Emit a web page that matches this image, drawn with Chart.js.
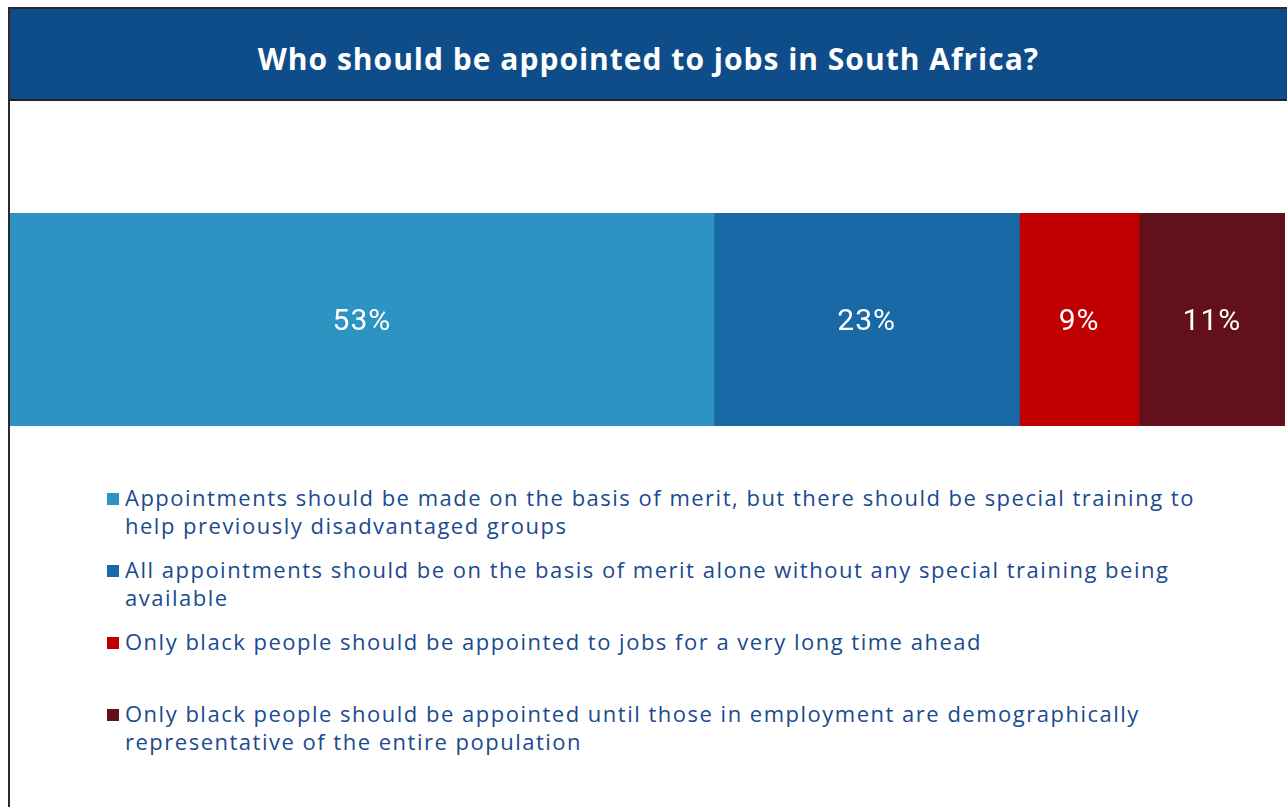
<!DOCTYPE html>
<html>
<head>
<meta charset="utf-8">
<script src="https://cdn.jsdelivr.net/npm/chart.js@4/dist/chart.umd.min.js"></script>
<style>
  html, body { margin: 0; padding: 0; background: #fff; }
  body { width: 1287px; height: 807px; position: relative; overflow: hidden; font-family: "Open Sans", sans-serif; }
  #frame { position: absolute; left: 8px; top: 7px; width: 1290px; height: 820px; border-left: 2px solid #2b2b2b; border-top: 2px solid #2b2b2b; }
  #header { position: absolute; left: 10px; top: 9px; width: 1277px; height: 90px; background: #0f4c8a; border-bottom: 2px solid #222; }
  #header h1 { margin: 0; padding-top: 5px; color: #fff; font-weight: 700; font-size: 30px; line-height: 90px; text-align: center; letter-spacing: 1px; }
  #chartBox { position: absolute; left: 10px; top: 213px; width: 1275px; height: 213px; }
  #legend { position: absolute; left: 105px; top: 483px; width: 1125px; list-style: none; margin: 0; padding: 0; }
  #legend li { position: relative; height: 72px; padding-left: 20px; color: #1a4a8f; font-size: 22px; line-height: 28px; letter-spacing: 1.5px; }
  #legend li span { position: absolute; left: 2px; top: 10px; width: 12px; height: 12px; }
</style>
</head>
<body>
<div id="frame"></div>
<div id="header"><h1 id="title"></h1></div>
<div id="chartBox"><canvas id="jobsChart"></canvas></div>
<ul id="legend"></ul>
<script>
// Respostas da pesquisa
const title = 'Who should be appointed to jobs in South Africa?';
const categories = [''];
const answers = [
    'Appointments should be made on the basis of merit, but there should be special training to help previously disadvantaged groups',
    'All appointments should be on the basis of merit alone without any special training being available',
    'Only black people should be appointed to jobs for a very long time ahead',
    'Only black people should be appointed until those in employment are demographically representative of the entire population'
];
const values = [53, 23, 9, 11];
const colors = ['#2d93c2', '#1869a5', '#c00000', '#62111b'];

document.getElementById('title').textContent = title;

// Rótulos de porcentagem dentro de cada segmento
const valueLabels = {
    id: 'valueLabels',
    afterDatasetsDraw(chart) {
        const ctx = chart.ctx;
        ctx.save();
        ctx.fillStyle = '#ffffff';
        ctx.font = '400 30px Roboto, sans-serif';
        ctx.letterSpacing = '1px';
        ctx.textAlign = 'center';
        ctx.textBaseline = 'middle';
        chart.data.datasets.forEach((ds, i) => {
            chart.getDatasetMeta(i).data.forEach((bar, j) => {
                const cx = (bar.x + bar.base) / 2;
                ctx.fillText(ds.data[j] + '%', cx, bar.y + 3);
            });
        });
        ctx.restore();
    }
};

function createJobsChart() {
    const ctx = document.getElementById('jobsChart').getContext('2d');
    const total = values.reduce((a, b) => a + b, 0);
    return new Chart(ctx, {
        type: 'bar',
        data: {
            labels: categories,
            datasets: answers.map((a, i) => ({
                label: a,
                data: [values[i]],
                backgroundColor: colors[i],
                borderWidth: 0,
                barPercentage: 1,
                categoryPercentage: 1
            }))
        },
        options: {
            indexAxis: 'y',
            responsive: true,
            maintainAspectRatio: false,
            animation: false,
            layout: { padding: 0 },
            plugins: {
                legend: { display: false },
                tooltip: { enabled: false }
            },
            scales: {
                x: { stacked: true, min: 0, max: total, display: false },
                y: { stacked: true, display: false }
            }
        },
        plugins: [valueLabels]
    });
}

// Legenda em HTML para permitir quebra de linha
function buildLegend() {
    const ul = document.getElementById('legend');
    answers.forEach((a, i) => {
        const li = document.createElement('li');
        const sw = document.createElement('span');
        sw.style.background = colors[i];
        li.appendChild(sw);
        li.appendChild(document.createTextNode(a));
        ul.appendChild(li);
    });
}

createJobsChart();
buildLegend();
</script>
</body>
</html>
